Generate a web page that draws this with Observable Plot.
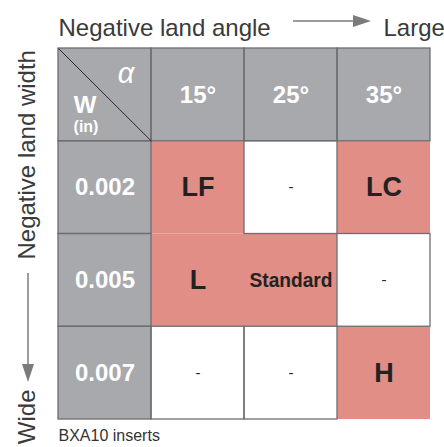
<!DOCTYPE html>
<html><head><meta charset="utf-8">
<script src="https://cdn.jsdelivr.net/npm/d3@7"></script>
<script src="https://cdn.jsdelivr.net/npm/@observablehq/plot@0.6"></script>
<style>body{margin:0;background:#fff}</style>
</head><body><div id="chart"></div>
<script>
const angles = ["15°", "25°", "35°"];
const widths = ["0.002", "0.005", "0.007"];
const grades = [["LF", "-", "LC"], ["L", "Standard", "-"], ["-", "-", "H"]];
const titleX = "Negative land angle", endX = "Large";
const titleY = "Negative land width", endY = "Wide";
const caption = "BXA10 inserts";
const cornerAlpha = "α", cornerW = "W", cornerUnit = "(in)";

const GREY = "#a8a9ad", SALMON = "#e08e86", LINE = "#6e6e70";

const cells = [];
cells.push({c: 0, r: 0, label: "", kind: "corner"});
angles.forEach((a, i) => cells.push({c: i + 1, r: 0, label: a, kind: "head"}));
widths.forEach((w, j) => cells.push({c: 0, r: j + 1, label: w, kind: "head"}));
grades.forEach((row, j) => row.forEach((g, i) =>
  cells.push({c: i + 1, r: j + 1, label: g, kind: g === "-" ? "empty" : "grade"})));

const fillOf = k => (k === "head" || k === "corner") ? GREY : k === "grade" ? SALMON : "#fff";
const box = {x1: "c", x2: d => d.c + 1, y1: "r", y2: d => d.r + 1};
const mid = {x: d => d.c + 0.5, y: d => d.r + 0.5};
const corner = cells.filter(d => d.kind === "corner");

const chart = Plot.plot({
  width: 444, height: 447,
  marginLeft: 58, marginRight: 14, marginTop: 48, marginBottom: 28,
  x: {domain: [0, 4], axis: null},
  y: {domain: [0, 4], reverse: true, axis: null},
  style: {fontFamily: "'Liberation Sans', Arial, sans-serif", background: "#fff", overflow: "visible"},
  marks: [
    Plot.rect(cells, {...box, fill: d => fillOf(d.kind), inset: 0}),
    Plot.rect(cells.filter(d => d.kind !== "grade"), {...box, fill: "none", stroke: LINE, strokeWidth: 1.3, inset: 0}),
    Plot.link(corner, {...box, stroke: "#1a1a1a", strokeWidth: 0.9}),
    Plot.text(cells.filter(d => d.kind === "head"), {...mid, text: "label", fill: "#fff", fontWeight: "bold", fontSize: 24}),
    Plot.text(cells.filter(d => d.kind === "grade" && d.label !== "Standard"), {...mid, text: "label", fill: "#222", fontWeight: "bold", fontSize: 27}),
    Plot.text(cells.filter(d => d.label === "Standard"), {...mid, text: "label", fill: "#222", fontWeight: "bold", fontSize: 21, className: "narrow"}),
    Plot.text(cells.filter(d => d.kind === "empty"), {...mid, text: "label", fill: "#222", fontSize: 15}),
    Plot.text(corner, {...mid, text: () => cornerAlpha, fill: "#fff", fontStyle: "italic", fontSize: 29, dx: 21, dy: -21}),
    Plot.text(corner, {...mid, text: () => cornerW, fill: "#fff", fontWeight: "bold", fontSize: 24, dx: -20, dy: 10}),
    Plot.text(corner, {...mid, text: () => cornerUnit, fill: "#fff", fontWeight: "bold", fontSize: 16, dx: -19, dy: 32}),
    Plot.text([titleX], {frameAnchor: "top-left", text: d => d, textAnchor: "start", fontSize: 24, fill: "#3a3a3a", dy: -29.7}),
    Plot.text([endX], {frameAnchor: "top-left", text: d => d, textAnchor: "start", fontSize: 24, fill: "#3a3a3a", dx: 325, dy: -29.7}),
    Plot.text([titleY], {frameAnchor: "top-left", text: d => d, textAnchor: "start", rotate: -90, fontSize: 24, fill: "#3a3a3a", dx: -41, dy: 211}),
    Plot.text([endY], {frameAnchor: "top-left", text: d => d, textAnchor: "end", rotate: -90, fontSize: 24, fill: "#3a3a3a", dx: -41, dy: 341}),
    Plot.text([caption], {frameAnchor: "bottom-left", text: d => d, textAnchor: "start", fontSize: 16, fill: "#333", dy: 21})
  ]
});

const svg = d3.select(chart);
// condensed look for "Standard"
svg.selectAll("g.narrow text").attr("textLength", 83).attr("lengthAdjust", "spacingAndGlyphs");
// decorative direction arrows
const deco = svg.append("g").attr("fill", "#7b7b7d").attr("stroke", "#7b7b7d");
deco.append("line").attr("x1", 293).attr("y1", 21).attr("x2", 356).attr("y2", 21).attr("stroke-width", 1.5);
deco.append("path").attr("d", "M371,21L353,15L353,27Z").attr("stroke", "none");
deco.append("line").attr("x1", 28).attr("y1", 273).attr("x2", 28).attr("y2", 366).attr("stroke-width", 1.5);
deco.append("path").attr("d", "M28,382L22,364L34,364Z").attr("stroke", "none");

document.getElementById("chart").appendChild(chart);
</script>
</body></html>
